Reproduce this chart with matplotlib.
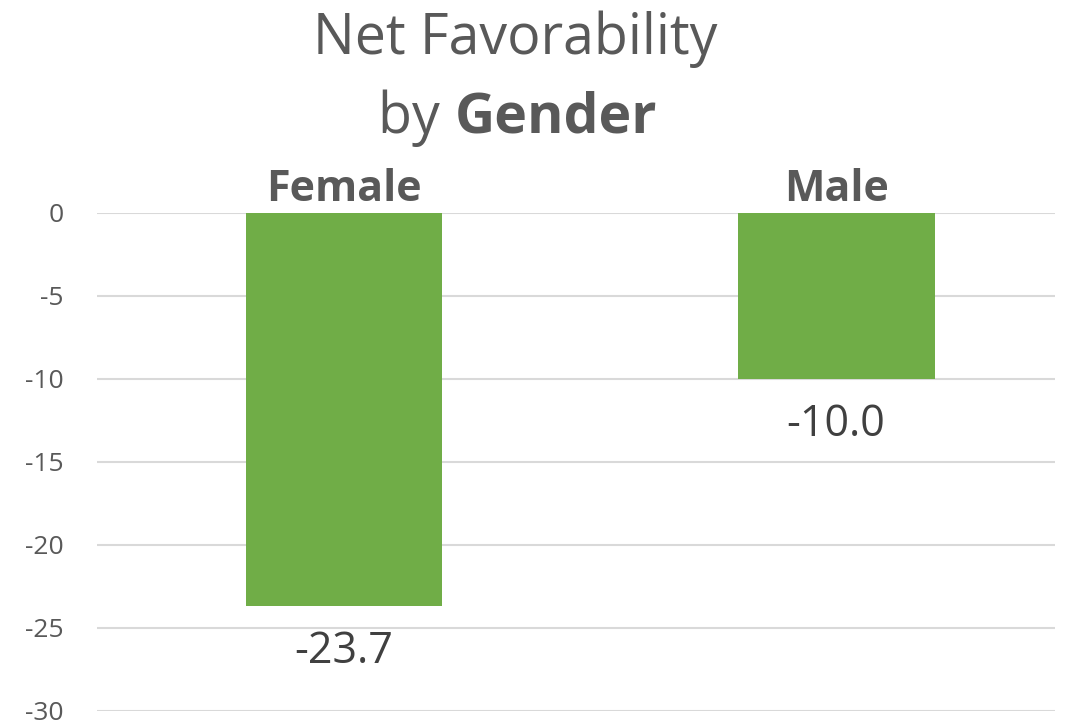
import matplotlib.pyplot as plt

# data
genders = ["Female", "Male"]
net_fav = [-23.7, -10.0]
y_ticks = [0, -5, -10, -15, -20, -25, -30]

bar_color = "#70AD47"
grid_color = "#D9D9D9"
text_gray = "#595959"
label_gray = "#404040"

plt.rcParams["font.family"] = ["Open Sans", "DejaVu Sans"]

fig = plt.figure(figsize=(10.69, 7.24), dpi=100)
ax = fig.add_axes([0.0907, 0.018, 0.987 - 0.0907, 0.706 - 0.018])

x = list(range(len(genders)))
bars = ax.bar(x, net_fav, width=0.4, color=bar_color, zorder=3)

ax.set_ylim(-30, 0)
ax.set_xlim(-0.502, 1.445)
ax.set_yticks(y_ticks)
ax.set_yticklabels([str(t) for t in y_ticks], fontsize=19, color=text_gray)
ax.tick_params(axis="y", length=0, pad=24)
ax.grid(axis="y", color=grid_color, linewidth=1.5, zorder=0)

# category labels on top
ax.xaxis.tick_top()
ax.set_xticks(x)
ax.set_xticklabels(genders, fontsize=31, fontweight="bold", color=text_gray)
ax.tick_params(axis="x", length=0, pad=1)

for s in ax.spines.values():
    s.set_visible(False)

# value labels under each bar
for b, v in zip(bars, net_fav):
    ax.annotate(f"{v:.1f}", (b.get_x() + b.get_width() / 2, v),
                xytext=(0, -17), textcoords="offset points",
                ha="center", va="top", fontsize=31, color=label_gray)

# title with bold word
fig.text(0.482, 0.946, "Net Favorability", ha="center", va="center",
         fontsize=40, color=text_gray)
fig.text(0.425, 0.837, "by ", ha="right", va="center",
         fontsize=40, color=text_gray)
fig.text(0.425, 0.837, "Gender", ha="left", va="center",
         fontsize=40, fontweight="bold", color=text_gray)

fig.savefig("out.png", dpi=100)
